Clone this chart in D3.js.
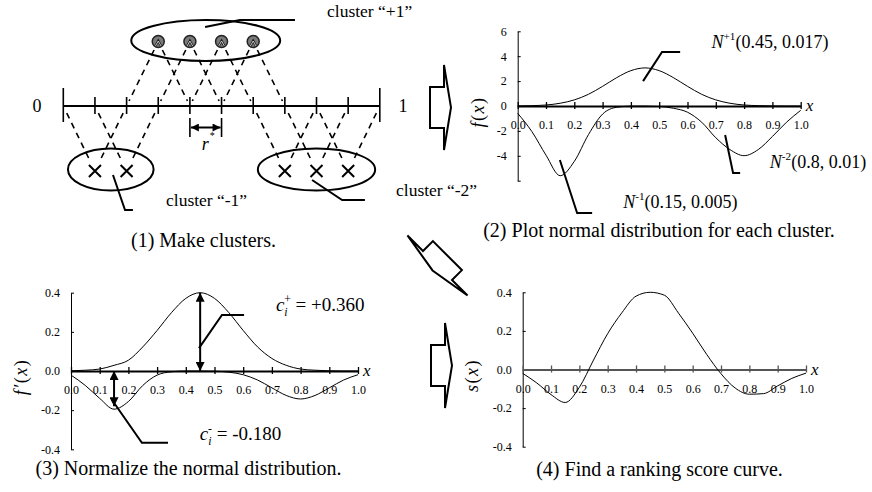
<!DOCTYPE html>
<html>
<head>
<meta charset="utf-8">
<script src="https://cdn.jsdelivr.net/npm/d3@7"></script>
<style>
  body { margin: 0; background: #fff; }
  svg { display: block; font-family: "Liberation Serif", "Times New Roman", serif; }
</style>
</head>
<body>
<svg id="chart" width="872" height="492"></svg>
<script>
// ---------- data ----------
const xs = [0, 0.05, 0.1, 0.15, 0.2, 0.25, 0.3, 0.35, 0.4, 0.45, 0.5,
            0.55, 0.6, 0.65, 0.7, 0.75, 0.8, 0.85, 0.9, 0.95, 1.0];
const xTicks = [0, 0.1, 0.2, 0.3, 0.4, 0.5, 0.6, 0.7, 0.8, 0.9, 1.0];

// (2) normal distributions
const fPos = [0.01, 0.03, 0.08, 0.22, 0.49, 0.94, 1.58, 2.28, 2.84, 3.06, 2.84,
              2.28, 1.58, 0.94, 0.49, 0.22, 0.08, 0.03, 0.01, 0.00, 0.00];
const fNeg = [-0.59, -2.05, -3.95, -5.6, -4.45, -2.3, -0.65, -0.1, -0.01, -0.01, -0.04,
              -0.18, -0.5, -1.3, -2.55, -3.5, -3.99, -3.5, -2.45, -1.3, -0.35];
// (3) normalized
const gPos = [0.001, 0.004, 0.010, 0.029, 0.055, 0.123, 0.207, 0.298, 0.371, 0.400, 0.371,
              0.298, 0.207, 0.123, 0.064, 0.029, 0.010, 0.004, 0.001, 0, 0];
const gNeg = [-0.021, -0.074, -0.14, -0.195, -0.156, -0.074, -0.021, -0.004, 0, 0, -0.001,
              -0.006, -0.019, -0.046, -0.086, -0.125, -0.143, -0.125, -0.086, -0.046, -0.019];
// (4) ranking score
const score = [-0.020, -0.070, -0.130, -0.171, -0.092, 0.049, 0.186, 0.294, 0.380, 0.400, 0.385,
               0.292, 0.188, 0.077, -0.022, -0.096, -0.128, -0.125, -0.085, -0.046, -0.019];

const yTicksF = [6, 4, 2, 0, -2, -4, -6];
const yTicksN = [0.4, 0.2, 0.0, -0.2, -0.4];

// (1) clusters on the 0..1 line
const clusterPlus = [0.3, 0.4, 0.5, 0.6];
const clusterMinus1 = [0.1, 0.2];
const clusterMinus2 = [0.7, 0.8, 0.9];
const rPair = [0.4, 0.5];

// heights of the arrows in (3)
const cArrows = [[0.45, 0, 0.4], [0.15, 0, -0.18]];

// ---------- helpers ----------
const svg = d3.select("#chart");

const defs = svg.append("defs");
function marker(id, w, h) {
  defs.append("marker")
    .attr("id", id)
    .attr("viewBox", "0 0 10 10")
    .attr("refX", 10).attr("refY", 5)
    .attr("markerUnits", "userSpaceOnUse")
    .attr("markerWidth", w).attr("markerHeight", h)
    .attr("orient", "auto-start-reverse")
    .append("path").attr("d", "M0,0L10,5L0,10Z").attr("fill", "#000");
}
marker("head", 10, 9);
marker("headS", 9, 8);

function polyline(g, pts) {
  g.append("path")
    .attr("d", d3.line()(pts))
    .attr("fill", "none")
    .attr("stroke", "#000")
    .attr("stroke-width", 2);
}

// text made of parts: {t, it, sup, sub, dx}
function richText(g, x, y, size, parts, anchor) {
  const t = g.append("text").attr("x", x).attr("y", y)
    .attr("font-size", size).attr("text-anchor", anchor || "start");
  let shift = 0;
  parts.forEach(p => {
    const s = t.append("tspan").text(p.t);
    let target = p.sup ? -size * 0.42 : p.sub ? size * 0.28 : 0;
    s.attr("dy", target - shift);
    shift = target;
    if (p.sup || p.sub) s.attr("font-size", size * 0.62);
    if (p.it) s.attr("font-style", "italic");
    if (p.dx) s.attr("dx", p.dx);
  });
  return t;
}

function blockArrow(cx, cy, angle) {
  svg.append("path")
    .attr("d", "M-14,-20.5L0,-20.5L0,-42.5L7,0L0,42.5L0,20.5L-14,20.5Z")
    .attr("transform", `translate(${cx},${cy}) rotate(${angle})`)
    .attr("fill", "#fff")
    .attr("stroke", "#000")
    .attr("stroke-width", 2)
    .attr("stroke-linejoin", "miter");
}

// ---------- generic plot panel ----------
function panel(o) {
  const g = svg.append("g");
  const x = d3.scaleLinear([0, 1], [o.x0, o.x1]);
  const y = d3.scaleLinear(o.domain, [o.yBot, o.yTop]);

  // y axis with inward ticks
  const ya = g.append("g").attr("transform", `translate(${o.x0},0)`)
    .call(d3.axisLeft(y).tickValues(o.yTicks).tickSize(-3).tickSizeOuter(0)
      .tickPadding(11).tickFormat(o.fmt));
  ya.attr("font-family", null).attr("font-size", 12);
  ya.select(".domain").attr("stroke-width", 1);

  // x axis crossing at zero
  const xa = g.append("g").attr("transform", `translate(0,${y(0)})`)
    .call(d3.axisBottom(x).tickValues(xTicks).tickSize(3).tickSizeOuter(0)
      .tickPadding(11.5).tickFormat(d => d.toFixed(1)));
  xa.attr("font-family", null).attr("font-size", 12);
  xa.select(".domain").attr("stroke", o.axisColor).attr("stroke-width", 2);
  xa.selectAll(".tick line").attr("y1", -4).attr("stroke-width", 1.3).attr("stroke", o.axisColor);

  richText(g, o.x1 + 5, y(0) + 5, 17, [{ t: "x", it: true }]);

  // rotated y label
  const yl = richText(g, 0, 0, 18, o.yLabel, "middle")
    .attr("transform", `translate(${o.labelX},${y(0) + 6}) rotate(-90)`);
  yl.attr("letter-spacing", 1.5);

  const line = d3.line().x((d, i) => x(xs[i])).y(d => y(d)).curve(d3.curveMonotoneX);
  o.series.forEach(s => {
    g.append("path").attr("d", line(s))
      .attr("fill", "none").attr("stroke", "#000").attr("stroke-width", 1);
  });
  return { g, x, y };
}

// ---------- (1) make clusters ----------
const nl = d3.scaleLinear([0, 1], [63.3, 379.8]);
const lineY = 106, topY = 41.5, botY = 171;
const g1 = svg.append("g");

// dashed links
const links = [];
clusterPlus.forEach(m => [-0.1, 0.1].forEach(s => links.push({ m, t: +(m + s).toFixed(1), up: true })));
[clusterMinus1, clusterMinus2].forEach(c => c.forEach(m =>
  [-0.1, 0.1].forEach(s => links.push({ m, t: +(m + s).toFixed(1), up: false }))));

function along(d, yy) {
  const yFrom = d.up ? topY : botY;
  return nl(d.m) + (nl(d.t) - nl(d.m)) * (yy - yFrom) / (lineY - yFrom);
}
g1.selectAll(".link").data(links).join("line")
  .attr("x1", d => along(d, d.up ? 50 : 158))
  .attr("y1", d => d.up ? 50 : 158)
  .attr("x2", d => along(d, d.up ? 101 : 112))
  .attr("y2", d => d.up ? 101 : 112)
  .attr("stroke", "#000").attr("stroke-width", 1.6)
  .attr("stroke-dasharray", "6,5");

// number line
g1.append("line").attr("x1", nl(0)).attr("x2", nl(1)).attr("y1", lineY).attr("y2", lineY)
  .attr("stroke", "#000").attr("stroke-width", 2);
g1.selectAll(".nt").data(xTicks).join("line")
  .attr("x1", d => nl(d)).attr("x2", d => nl(d))
  .attr("y1", (d, i) => (i === 0 || i === xTicks.length - 1) ? 88 : 97)
  .attr("y2", (d, i) => (i === 0 || i === xTicks.length - 1) ? 122 : 114)
  .attr("stroke", "#000").attr("stroke-width", 1.6);
g1.append("text").attr("x", 37).attr("y", 112).attr("font-size", 18).attr("text-anchor", "middle").text("0");
g1.append("text").attr("x", 403).attr("y", 112).attr("font-size", 18).attr("text-anchor", "middle").text("1");

// r* dimension
g1.selectAll(".rbar").data(rPair).join("line")
  .attr("x1", d => nl(d)).attr("x2", d => nl(d)).attr("y1", 118).attr("y2", 137)
  .attr("stroke", "#000").attr("stroke-width", 1.6);
g1.append("line")
  .attr("x1", nl(rPair[0]) + 1).attr("x2", nl(rPair[1]) - 1).attr("y1", 127.5).attr("y2", 127.5)
  .attr("stroke", "#000").attr("stroke-width", 2)
  .attr("marker-start", "url(#headS)").attr("marker-end", "url(#headS)");
const rt = g1.append("text").attr("x", (nl(rPair[0]) + nl(rPair[1])) / 2 - 4).attr("y", 150)
  .attr("font-size", 18);
rt.append("tspan").attr("font-style", "italic").text("r");
rt.append("tspan").attr("font-size", 10).attr("dx", 1).attr("dy", -11).text("*");

// ellipses
function ellipse(members, cy, ry) {
  const lo = nl(d3.min(members)), hi = nl(d3.max(members));
  g1.append("ellipse").attr("cx", (lo + hi) / 2).attr("cy", cy)
    .attr("rx", (hi - lo) / 2 + 27).attr("ry", ry)
    .attr("fill", "none").attr("stroke", "#000").attr("stroke-width", 2);
}
ellipse(clusterPlus, 40.5, 20.5);
ellipse(clusterMinus1, 169.5, 21);
ellipse(clusterMinus2, 169.5, 21);

// positive members
const dots = g1.selectAll(".dot").data(clusterPlus).join("g")
  .attr("transform", d => `translate(${nl(d)},${topY})`);
dots.append("circle").attr("r", 6).attr("fill", "#7a7a7a").attr("stroke", "#222").attr("stroke-width", 1.5);
dots.append("path").attr("d", "M-2.8,4.5L0,-0.5L2.8,4.5").attr("fill", "none")
  .attr("stroke", "#1a1a1a").attr("stroke-width", 2.4);
dots.append("path").attr("d", "M-2.8,4.5L0,-0.5L2.8,4.5").attr("fill", "none")
  .attr("stroke", "#d8d8d8").attr("stroke-width", 0.9);

// negative members
g1.selectAll(".cross").data(clusterMinus1.concat(clusterMinus2)).join("path")
  .attr("d", d => `M${nl(d) - 6},${botY - 6}L${nl(d) + 6},${botY + 6}M${nl(d) + 6},${botY - 6}L${nl(d) - 6},${botY + 6}`)
  .attr("stroke", "#000").attr("stroke-width", 2);

// callouts and names
polyline(g1, [[nl(0.448), 27], [nl(0.558), 20], [nl(0.732), 20]]);
polyline(g1, [[nl(0.157), 175], [nl(0.195), 210], [nl(0.22), 210]]);
polyline(g1, [[nl(0.786), 180], [nl(0.881), 200], [nl(0.953), 200]]);
g1.append("text").attr("x", 327).attr("y", 17).attr("font-size", 17.5).text("cluster \u201C+1\u201D");
g1.append("text").attr("x", 166).attr("y", 206).attr("font-size", 17.5).text("cluster \u201C-1\u201D");
g1.append("text").attr("x", 396).attr("y", 196).attr("font-size", 17.5).text("cluster \u201C-2\u201D");

// ---------- (2) normal distributions ----------
const p2 = panel({
  x0: 517.7, x1: 800.7, yTop: 31.3, yBot: 180.7, domain: [-6, 6],
  yTicks: yTicksF, fmt: d => d === -6 ? "" : String(d), axisColor: "#000",
  labelX: 484, yLabel: [{ t: "f", it: true }, { t: "(" }, { t: "x", it: true }, { t: ")" }],
  series: [fPos, fNeg]
});
polyline(p2.g, [[p2.x(0.443), p2.y(2.0)], [p2.x(0.51), p2.y(4.34)], [p2.x(0.574), p2.y(4.34)]]);
polyline(p2.g, [[p2.x(0.149), p2.y(-4.34)], [p2.x(0.21), p2.y(-8.6)], [p2.x(0.263), p2.y(-8.6)]]);
polyline(p2.g, [[p2.x(0.733), p2.y(-2.33)], [p2.x(0.761), p2.y(-5.38)], [p2.x(0.786), p2.y(-5.38)]]);
richText(p2.g, p2.x(0.685), p2.y(4.66), 18, [{ t: "N", it: true }, { t: "+1", sup: true }, { t: "(0.45, 0.017)" }]);
richText(p2.g, p2.x(0.373), p2.y(-8.19), 18, [{ t: "N", it: true }, { t: "-1", sup: true }, { t: "(0.15, 0.005)" }]);
richText(p2.g, p2.x(0.891), p2.y(-4.98), 18, [{ t: "N", it: true }, { t: "-2", sup: true }, { t: "(0.8, 0.01)" }]);

// ---------- (3) normalized ----------
const p3 = panel({
  x0: 71, x1: 358, yTop: 292.7, yBot: 449.3, domain: [-0.4, 0.4],
  yTicks: yTicksN, fmt: d => d.toFixed(1), axisColor: "#000",
  labelX: 27, yLabel: [{ t: "f\u2032", it: true }, { t: "(" }, { t: "x", it: true }, { t: ")" }],
  series: [gPos, gNeg]
});
cArrows.forEach(a => {
  p3.g.append("line")
    .attr("x1", p3.x(a[0])).attr("x2", p3.x(a[0]))
    .attr("y1", p3.y(a[1])).attr("y2", p3.y(a[2]))
    .attr("stroke", "#000").attr("stroke-width", 2)
    .attr("marker-start", "url(#head)").attr("marker-end", "url(#head)");
});
polyline(p3.g, [[p3.x(0.446), p3.y(0.117)], [p3.x(0.526), p3.y(0.286)], [p3.x(0.603), p3.y(0.286)]]);
polyline(p3.g, [[p3.x(0.143), p3.y(-0.148)], [p3.x(0.247), p3.y(-0.367)], [p3.x(0.338), p3.y(-0.367)]]);
richText(p3.g, p3.x(0.714), p3.y(0.306), 19,
  [{ t: "c", it: true }, { t: "i", it: true, sub: true }, { t: "+", sup: true, dx: -3.5 }, { t: " = +0.360" }]);
richText(p3.g, p3.x(0.449), p3.y(-0.352), 19,
  [{ t: "c", it: true }, { t: "i", it: true, sub: true }, { t: "-", sup: true, dx: -3.5 }, { t: " = -0.180" }]);

// ---------- (4) ranking score ----------
panel({
  x0: 522.7, x1: 806, yTop: 292.3, yBot: 446.7, domain: [-0.4, 0.4],
  yTicks: yTicksN, fmt: d => d.toFixed(1), axisColor: "#555",
  labelX: 478, yLabel: [{ t: "s", it: true }, { t: "(" }, { t: "x", it: true }, { t: ")" }],
  series: [score]
});

// ---------- flow arrows ----------
blockArrow(444, 107.5, 0);
blockArrow(437.5, 265.5, 135);
blockArrow(445, 365.5, 0);

// ---------- captions ----------
const captions = [
  ["(1) Make clusters.", 203.5, 247],
  ["(2) Plot normal distribution for each cluster.", 659, 236.5],
  ["(3) Normalize the normal distribution.", 188.5, 474.5],
  ["(4) Find a ranking score curve.", 659.5, 476]
];
svg.selectAll(".cap").data(captions).join("text")
  .attr("x", d => d[1]).attr("y", d => d[2])
  .attr("font-size", 20).attr("text-anchor", "middle")
  .text(d => d[0]);
</script>
</body>
</html>
